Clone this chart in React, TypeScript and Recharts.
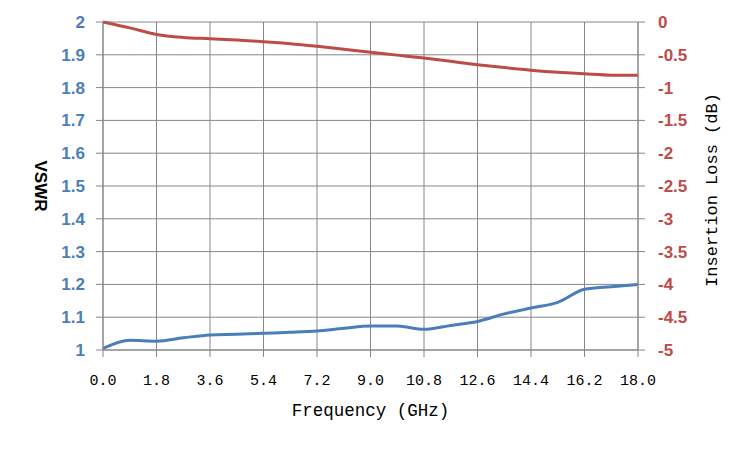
import React from 'react';
import { LineChart, Line, XAxis, YAxis, CartesianGrid } from 'recharts';

const frequency = [0, 0.9, 1.8, 2.7, 3.6, 4.5, 5.4, 6.3, 7.2, 8.1, 9.0, 9.9, 10.8, 11.7, 12.6, 13.5, 14.4, 15.3, 16.2, 17.1, 18.0];
const vswr = [1.005, 1.03, 1.027, 1.037, 1.046, 1.048, 1.051, 1.054, 1.058, 1.066, 1.073, 1.073, 1.063, 1.075, 1.087, 1.11, 1.128, 1.145, 1.185, 1.193, 1.2];
const insertionLoss = [0, -0.09, -0.19, -0.235, -0.255, -0.275, -0.3, -0.33, -0.37, -0.415, -0.46, -0.505, -0.55, -0.6, -0.65, -0.695, -0.735, -0.765, -0.79, -0.81, -0.81];

const xTicks = [0, 1.8, 3.6, 5.4, 7.2, 9.0, 10.8, 12.6, 14.4, 16.2, 18.0];
const vswrTicks = [1, 1.1, 1.2, 1.3, 1.4, 1.5, 1.6, 1.7, 1.8, 1.9, 2];
const lossTicks = [-5, -4.5, -4, -3.5, -3, -2.5, -2, -1.5, -1, -0.5, 0];

const data = frequency.map((f, i) => ({ freq: f, vswr: vswr[i], loss: insertionLoss[i] }));

const BLUE = '#4A7EBB';
const RED = '#BE4B48';
const GRID = '#868686';
const MONO = '"Liberation Mono", "DejaVu Sans Mono", monospace';
const SANS = '"Liberation Sans", Arial, sans-serif';

const fmt = (v: number) => String(Math.round(v * 10) / 10);

export default function App() {
  return (
    <LineChart width={742} height={442} data={data} margin={{ top: 14, right: 0, bottom: 40, left: 0 }}>
      <CartesianGrid stroke={GRID} strokeWidth={1} yAxisId="left" />
      <XAxis
        dataKey="freq"
        type="number"
        domain={[0, 18]}
        ticks={xTicks}
        tickFormatter={(v: number) => v.toFixed(1)}
        stroke={GRID}
        tickSize={7}
        tickMargin={17}
        height={60}
        tick={{ fill: '#000', fontSize: 15, fontFamily: MONO }}
        label={{
          content: (p: any) => {
            const vb = p.viewBox;
            return (
              <text x={vb.x + vb.width / 2} y={vb.y + 66} textAnchor="middle" fontFamily={MONO} fontSize={17.5} fill="#000">
                Frequency (GHz)
              </text>
            );
          },
        }}
      />
      <YAxis
        yAxisId="left"
        domain={[1, 2]}
        ticks={vswrTicks}
        tickFormatter={fmt}
        width={95}
        stroke={GRID}
        tickSize={7}
        tickMargin={11}
        tick={{ fill: BLUE, fontSize: 17, fontWeight: 'bold', fontFamily: SANS }}
        label={{
          content: (p: any) => {
            const vb = p.viewBox;
            const x = vb.x + 32;
            const y = vb.y + vb.height / 2;
            return (
              <text x={x} y={y} textAnchor="middle" dominantBaseline="central" transform={`rotate(90, ${x}, ${y})`} fontFamily={SANS} fontSize={17} fontWeight="bold" fill="#000">
                VSWR
              </text>
            );
          },
        }}
      />
      <YAxis
        yAxisId="right"
        orientation="right"
        domain={[-5, 0]}
        ticks={lossTicks}
        tickFormatter={fmt}
        width={112}
        stroke={GRID}
        tickSize={7}
        tickMargin={13}
        tick={{ fill: RED, fontSize: 17, fontWeight: 'bold', fontFamily: SANS }}
        label={{
          content: (p: any) => {
            const vb = p.viewBox;
            const x = vb.x + 74;
            const y = vb.y + vb.height / 2 + 4;
            return (
              <text x={x} y={y} textAnchor="middle" dominantBaseline="central" transform={`rotate(-90, ${x}, ${y})`} fontFamily={MONO} fontSize={17} fill="#000">
                Insertion Loss (dB)
              </text>
            );
          },
        }}
      />
      <Line yAxisId="left" type="monotone" dataKey="vswr" stroke={BLUE} strokeWidth={3} dot={false} isAnimationActive={false} />
      <Line yAxisId="right" type="monotone" dataKey="loss" stroke={RED} strokeWidth={3} dot={false} isAnimationActive={false} />
    </LineChart>
  );
}
